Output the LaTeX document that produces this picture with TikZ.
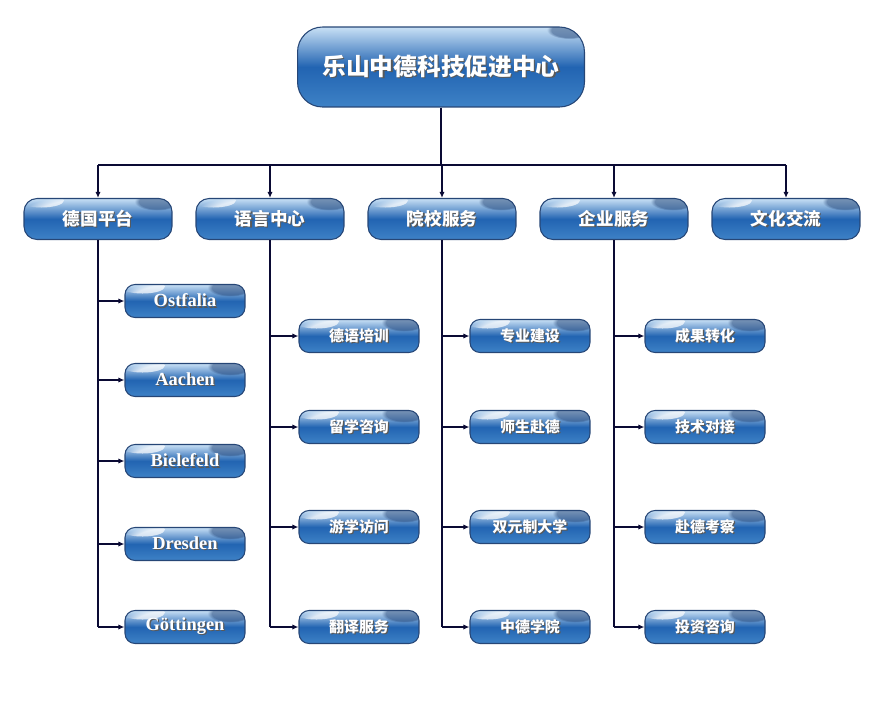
\documentclass[tikz,border=0pt]{standalone}
\usepackage{fontspec}
\setmainfont{Liberation Serif}
\newfontfamily\cjk{Noto Sans CJK SC}
\usetikzlibrary{positioning,arrows.meta,fadings}
\definecolor{btnlight}{RGB}{200,224,245}
\definecolor{btnmid}{RGB}{34,100,178}
\definecolor{btnlow}{RGB}{62,130,198}
\definecolor{btnborder}{RGB}{38,70,118}
\definecolor{linknavy}{RGB}{10,10,52}
\newcommand{\glow}[1]{\makebox[0pt][l]{\hspace{0.7pt}\raisebox{-0.7pt}{\textcolor{black!65}{#1}}}#1}

\tikzset{
    btn/.style={draw=btnborder,line width=0.6pt,top color=btnlight,bottom color=btnlow,middle color=btnmid,text=white,
        path picture={\fill[white,path fading=circle with fuzzy edge 20 percent,opacity=0.7] ([xshift=0.35cm,yshift=-0.04cm]path picture bounding box.north west) ellipse (0.45cm and 0.14cm);
            \fill[btnborder,path fading=circle with fuzzy edge 20 percent,opacity=0.5] ([xshift=-0.3cm,yshift=-0.06cm]path picture bounding box.north east) ellipse (0.45cm and 0.18cm);}},
    mainbox/.style={btn,minimum width=5.74cm,minimum height=1.6cm,rounded corners=0.5cm,font=\cjk\bfseries\fontsize{13.5}{16}\selectfont},
    catbox/.style={btn,minimum width=2.96cm,minimum height=0.82cm,rounded corners=0.26cm,font=\cjk\bfseries\fontsize{10}{12}\selectfont},
    subbox/.style={btn,minimum width=2.4cm,minimum height=0.66cm,rounded corners=0.2cm,font=\cjk\bfseries\fontsize{8.5}{10}\selectfont},
    latinbox/.style={subbox,font=\bfseries\fontsize{10.5}{12}\selectfont},
    link/.style={draw=linknavy,line width=0.9pt},
    linkarrow/.style={link,-{Latex[length=3.5pt,width=3pt]}}
}

\begin{document}
\begin{tikzpicture}[x=0.02cm,y=-0.02cm]
    \useasboundingbox (0,0) rectangle (885,721);

    % Centre
    \node[mainbox] (root) at (441,67) {\glow{乐山中德科技促进中心}};

    % Departments
    \node[catbox] (dept1) at (98,219) {\glow{德国平台}};
    \node[catbox] (dept2) at (270,219) {\glow{语言中心}};
    \node[catbox] (dept3) at (442,219) {\glow{院校服务}};
    \node[catbox] (dept4) at (614,219) {\glow{企业服务}};
    \node[catbox] (dept5) at (786,219) {\glow{文化交流}};

    % Bus from the centre
    \coordinate (bus) at (441,165);
    \draw[link] (root.south) -- (bus);
    \draw[link] (dept1.north |- bus) -- (dept5.north |- bus);
    \foreach \d in {1,...,5}
        \draw[linkarrow] (dept\d.north |- bus) -- (dept\d.north);

    % German partners
    \foreach \name [count=\i] / \y in {Ostfalia/301,Aachen/380,Bielefeld/461,Dresden/544,Göttingen/627}
        \node[latinbox] (uni\i) at (185,\y) {\glow{\name}};

    % Language centre
    \foreach \name [count=\i] / \y in {德语培训/336,留学咨询/427,游学访问/527,翻译服务/627}
        \node[subbox] (lang\i) at (359,\y) {\glow{\name}};

    % College services
    \foreach \name [count=\i] / \y in {专业建设/336,师生赴德/427,双元制大学/527,中德学院/627}
        \node[subbox] (coll\i) at (530,\y) {\glow{\name}};

    % Enterprise services
    \foreach \name [count=\i] / \y in {成果转化/336,技术对接/427,赴德考察/527,投资咨询/627}
        \node[subbox] (firm\i) at (705,\y) {\glow{\name}};

    % Branches
    \draw[link] (dept1.south) -- (dept1.south |- uni5.west);
    \foreach \i in {1,...,5}
        \draw[linkarrow] (dept1.south |- uni\i.west) -- (uni\i.west);
    \draw[link] (dept2.south) -- (dept2.south |- lang4.west);
    \draw[link] (dept3.south) -- (dept3.south |- coll4.west);
    \draw[link] (dept4.south) -- (dept4.south |- firm4.west);
    \foreach \i in {1,...,4} {
        \draw[linkarrow] (dept2.south |- lang\i.west) -- (lang\i.west);
        \draw[linkarrow] (dept3.south |- coll\i.west) -- (coll\i.west);
        \draw[linkarrow] (dept4.south |- firm\i.west) -- (firm\i.west);
    }
\end{tikzpicture}
\end{document}
